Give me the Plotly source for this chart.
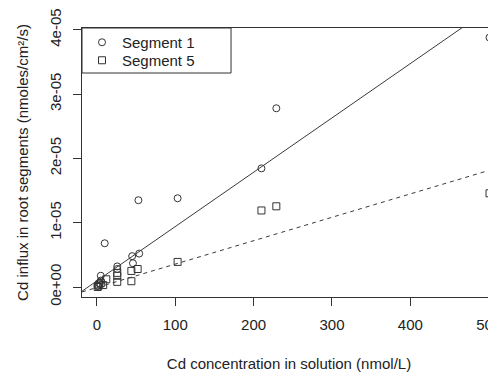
import plotly.graph_objects as go

# ---- data (influx in nmoles/cm2/s, concentration in nmol/L) ----
conc_seg1 = [1, 3, 5, 5, 10, 26, 26, 45, 46, 54, 53, 103, 210, 229, 501]
influx_seg1 = [0.02e-5, 0.06e-5, 0.10e-5, 0.175e-5, 0.68e-5, 0.28e-5, 0.32e-5,
               0.48e-5, 0.37e-5, 0.52e-5, 1.35e-5, 1.38e-5, 1.845e-5, 2.78e-5, 3.88e-5]

conc_seg5 = [1, 2, 3, 5, 8, 12, 26, 26, 26, 44, 44, 52, 103, 210, 229, 501]
influx_seg5 = [0.0, 0.02e-5, 0.04e-5, 0.06e-5, 0.03e-5, 0.12e-5, 0.08e-5, 0.175e-5,
               0.22e-5, 0.09e-5, 0.25e-5, 0.28e-5, 0.39e-5, 1.19e-5, 1.255e-5, 1.457e-5]

# fitted regression lines (intercept, slope)
fit_seg1 = [0.095e-5, 8.45e-8]
fit_seg5 = [-0.008e-5, 3.64e-8]

x_ticks = [0, 100, 200, 300, 400, 500]
y_ticks = [0, 1e-5, 2e-5, 3e-5, 4e-5]
y_tick_labels = ["0e+00", "1e-05", "2e-05", "3e-05", "4e-05"]

X_RANGE = [-19, 509.3]
Y_RANGE = [-0.1555e-5, 4.028e-5]

INK = "#333333"
FONT = dict(family="Liberation Sans, Arial, sans-serif", size=15, color="#222222")

# the page body adds an 8px margin, so the figure is sized to fill the rest
FIG_W, FIG_H = 488, 368
M_L, M_T, M_B, M_R = 74, 20, 79, 0
PLOT_H = FIG_H - M_T - M_B

fig = go.Figure()

fig.add_trace(go.Scatter(
    x=conc_seg1, y=influx_seg1, mode="markers", name="Segment 1", legend="legend",
    marker=dict(symbol="circle-open", size=7, color=INK, line=dict(width=1, color=INK)),
    cliponaxis=False,
))
fig.add_trace(go.Scatter(
    x=conc_seg5, y=influx_seg5, mode="markers", name="Segment 5", legend="legend2",
    marker=dict(symbol="square-open", size=7, color=INK, line=dict(width=1, color=INK)),
    cliponaxis=False,
))

line_x = X_RANGE
fig.add_trace(go.Scatter(
    x=line_x, y=[fit_seg1[0] + fit_seg1[1] * v for v in line_x], mode="lines",
    line=dict(color="#3a3a3a", width=1), showlegend=False, hoverinfo="skip",
))
fig.add_trace(go.Scatter(
    x=line_x, y=[fit_seg5[0] + fit_seg5[1] * v for v in line_x], mode="lines",
    line=dict(color="#3a3a3a", width=1, dash="4px,4px"), showlegend=False, hoverinfo="skip",
))

legend_common = dict(x=0, xanchor="left", yanchor="top", bgcolor="rgba(0,0,0,0)",
                     borderwidth=0, font=FONT, tracegroupgap=0)

fig.update_layout(
    width=FIG_W, height=FIG_H,
    margin=dict(l=M_L, r=M_R, t=M_T, b=M_B, pad=0),
    paper_bgcolor="white", plot_bgcolor="white",
    font=FONT,
    showlegend=True,
    legend=dict(y=1 + 2 / PLOT_H, **legend_common),
    legend2=dict(y=1 - 16 / PLOT_H, **legend_common),
    shapes=[dict(type="rect", xref="paper", yref="paper", x0=0, x1=0.36,
                 y0=1 - 45 / PLOT_H, y1=1,
                 line=dict(color=INK, width=1), fillcolor="rgba(0,0,0,0)")],
)

fig.update_xaxes(
    range=X_RANGE, showgrid=False, zeroline=False,
    showline=True, linecolor=INK, linewidth=1, mirror=True,
    ticks="outside", ticklen=8, tickcolor=INK, tickwidth=1,
    tickvals=x_ticks, ticktext=[str(v) for v in x_ticks],
    ticklabelstandoff=6, ticklabeloverflow="allow",
    title=dict(text="Cd concentration in solution (nmol/L)", standoff=26, font=FONT),
    automargin=False,
)
fig.update_yaxes(
    range=Y_RANGE, showgrid=False, zeroline=False,
    showline=True, linecolor=INK, linewidth=1,
    ticks="outside", ticklen=8, tickcolor=INK, tickwidth=1,
    tickvals=y_ticks, ticktext=y_tick_labels, tickangle=-90,
    ticklabelstandoff=6,
    title=dict(text="Cd influx in root segments (nmoles/cm²/s)", standoff=14, font=FONT),
    automargin=False,
)

fig.write_html("out.html")
